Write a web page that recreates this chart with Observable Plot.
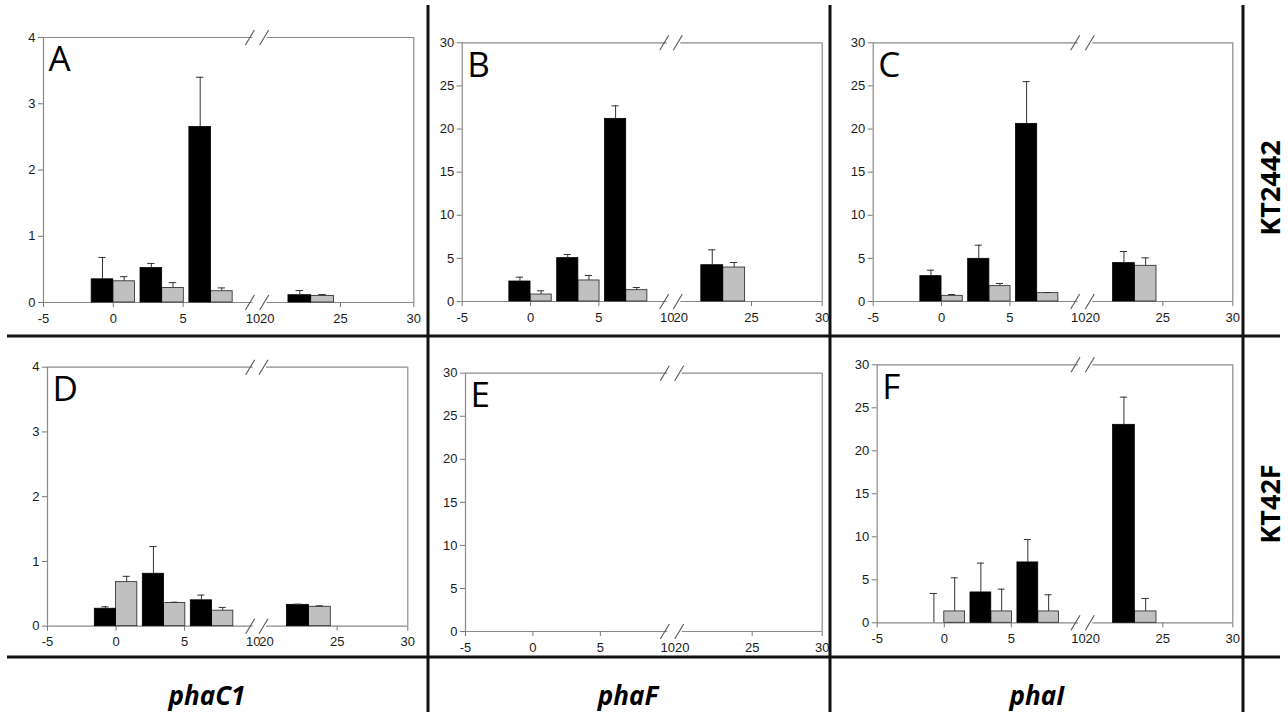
<!DOCTYPE html>
<html><head><meta charset="utf-8">
<script src="https://cdn.jsdelivr.net/npm/d3@7"></script>
<script src="https://cdn.jsdelivr.net/npm/@observablehq/plot@0.6"></script>
<style>
body{margin:0;background:#fff;}
#root{position:relative;width:1288px;height:716px;overflow:hidden;background:#fff;}
#root svg{position:absolute;left:0;top:0;}
</style></head><body><div id="root"></div>
<script>
// ---------- data ----------
const times = [0, 3.5, 7, 23];
const xTickLabels = [-5, 0, 5, 10, 20, 25, 30];
const xTickMarks = [-5, 0, 5, 25, 30];
const xBreakDomain = [-5, 10, 20, 30];
const smallTicks = [0, 1, 2, 3, 4];
const bigTicks = [0, 5, 10, 15, 20, 25, 30];
const genes = ["phaC1", "phaF", "phaI"];
const strains = ["KT2442", "KT42F"];
const letters = ["A", "B", "C", "D", "E", "F"];

const blackA = [0.35, 0.52, 2.65, 0.11];
const blackAErr = [0.33, 0.07, 0.75, 0.07];
const grayA = [0.32, 0.22, 0.17, 0.10];
const grayAErr = [0.07, 0.08, 0.05, 0.02];

const blackB = [2.32, 5.03, 21.18, 4.21];
const blackBErr = [0.50, 0.42, 1.51, 1.78];
const grayB = [0.81, 2.44, 1.31, 3.94];
const grayBErr = [0.43, 0.58, 0.31, 0.58];

const blackC = [2.94, 4.95, 20.6, 4.45];
const blackCErr = [0.69, 1.58, 4.9, 1.35];
const grayC = [0.66, 1.78, 0.97, 4.14];
const grayCErr = [0.15, 0.31, 0.07, 0.92];

const blackD = [0.27, 0.81, 0.40, 0.33];
const blackDErr = [0.03, 0.42, 0.08, 0.01];
const grayD = [0.68, 0.36, 0.24, 0.30];
const grayDErr = [0.09, 0.01, 0.05, 0.015];

const blackE = [0, 0, 0, 0];
const blackEErr = [0, 0, 0, 0];
const grayE = [0, 0, 0, 0];
const grayEErr = [0, 0, 0, 0];

const blackF = [0, 3.53, 7.02, 23.02];
const blackFErr = [3.41, 3.41, 2.67, 3.22];
const grayF = [1.32, 1.32, 1.32, 1.32];
const grayFErr = [3.91, 2.59, 1.94, 1.51];

// ---------- layout (page pixel positions of frames) ----------
const W = 1288, H = 716;
const barW = 1.55, capW = 0.26;
const layouts = [
  {fx: [43, 252.4, 266.7, 413.3], fy: [302, 37]},
  {fx: [461.7, 666.7, 680.3, 821.7], fy: [301, 42.3]},
  {fx: [872.7, 1077.7, 1092.3, 1232.3], fy: [301, 42.3]},
  {fx: [47, 252.7, 266, 407.3], fy: [625.7, 366.7]},
  {fx: [465, 667.3, 681.7, 821.7], fy: [631, 372.7]},
  {fx: [876.7, 1078, 1092.3, 1232.3], fy: [622.3, 364.3]}
];
const panels = [
  [4, smallTicks, blackA, blackAErr, grayA, grayAErr],
  [30, bigTicks, blackB, blackBErr, grayB, grayBErr],
  [30, bigTicks, blackC, blackCErr, grayC, grayCErr],
  [4, smallTicks, blackD, blackDErr, grayD, grayDErr],
  [30, bigTicks, blackE, blackEErr, grayE, grayEErr],
  [30, bigTicks, blackF, blackFErr, grayF, grayFErr]
];

const slash = {draw(ctx) { ctx.moveTo(-4.5, 7.5); ctx.lineTo(4.5, -7.5); }};
const root = document.getElementById("root");

panels.forEach(([yMax, yTicks, black, blackErr, gray, grayErr], k) => {
  const lay = layouts[k];
  const blackRows = times.map((t, i) => ({x1: t - barW, x2: t, xc: t - barW / 2, v: black[i], e: blackErr[i]}));
  const grayRows = times.map((t, i) => ({x1: t, x2: t + barW, xc: t + barW / 2, v: gray[i], e: grayErr[i]}));
  const allRows = blackRows.concat(grayRows).filter(d => d.e > 0);
  const [xa, x10, x20, xb] = xBreakDomain;
  const frameSegs = [0, yMax].flatMap(y => [{y, x1: xa, x2: x10}, {y, x1: x20, x2: xb}]);
  const breaks = [0, yMax].flatMap(y => [{x: x10, y}, {x: x20, y}]);
  const svg = Plot.plot({
    width: W, height: H,
    marginLeft: lay.fx[0], marginRight: W - lay.fx[3],
    marginTop: lay.fy[1], marginBottom: H - lay.fy[0],
    style: {background: "transparent", fontFamily: "'Liberation Sans', Arial, sans-serif", overflow: "visible"},
    x: {type: "linear", domain: xBreakDomain, range: lay.fx, label: null},
    y: {type: "linear", domain: [0, yMax], range: lay.fy, label: null},
    marks: [
      Plot.ruleX([xa, xb], {x: d => d, y1: 0, y2: yMax, stroke: "#8a8a8a", strokeWidth: 1.2}),
      Plot.ruleY(frameSegs, {y: "y", x1: "x1", x2: "x2", stroke: "#8a8a8a", strokeWidth: 1.2}),
      Plot.dot(breaks, {x: "x", y: "y", symbol: slash, stroke: "#555", fill: "none", strokeWidth: 1.1, dx: -3, r: 5}),
      Plot.rectY(grayRows, {x1: "x1", x2: "x2", y: "v", fill: "#c0c0c0", stroke: "#222", strokeWidth: 0.8}),
      Plot.rectY(blackRows, {x1: "x1", x2: "x2", y: "v", fill: "#000", stroke: "#000", strokeWidth: 0.8}),
      Plot.ruleX(allRows, {x: "xc", y1: "v", y2: d => d.v + d.e, stroke: "#333", strokeWidth: 1}),
      Plot.ruleY(allRows, {y: d => d.v + d.e, x1: d => d.xc - capW, x2: d => d.xc + capW, stroke: "#333", strokeWidth: 1}),
      Plot.axisY({ticks: yTicks, tickSize: 5, tickPadding: 3, fontSize: 13, stroke: "#777", fill: "#1a1a1a", tickFormat: d => String(d)}),
      Plot.axisX({ticks: xTickMarks, tickSize: 5, stroke: "#777", tickFormat: () => ""}),
      Plot.axisX({ticks: xTickLabels, tickSize: 0, tickPadding: 11, fontSize: 13, fill: "#1a1a1a", tickFormat: d => String(d)}),
      Plot.text([letters[k]], {text: d => d, frameAnchor: "top-left", dx: 5, dy: 9, fontSize: 35,
        fontFamily: "'Open Sans', sans-serif", textAnchor: "start", lineAnchor: "top", fill: "#000"})
    ]
  });
  root.appendChild(svg);
});

// ---------- grid lines and outer labels ----------
const ov = d3.select(root).append("svg").attr("width", W).attr("height", H);
const hLines = [336, 657];
const vLines = [428, 830, 1243];
hLines.forEach(y => ov.append("line").attr("x1", 7).attr("x2", 1280).attr("y1", y).attr("y2", y)
  .attr("stroke", "#111").attr("stroke-width", 3));
vLines.forEach(x => ov.append("line").attr("x1", x).attr("x2", x).attr("y1", 5).attr("y2", 712)
  .attr("stroke", "#111").attr("stroke-width", 3));
const geneX = [207, 628, 1037];
genes.forEach((g, i) => ov.append("text").attr("x", geneX[i]).attr("y", 705)
  .attr("text-anchor", "middle").attr("font-family", "'Open Sans', sans-serif")
  .attr("font-weight", 700).attr("font-style", "italic").attr("font-size", 26).attr("fill", "#000").text(g));
const strainY = [188, 504];
strains.forEach((s, i) => ov.append("text").attr("transform", `translate(1280,${strainY[i]}) rotate(-90)`)
  .attr("text-anchor", "middle").attr("font-family", "'Open Sans', sans-serif")
  .attr("font-weight", 700).attr("font-size", 27).attr("fill", "#000").text(s));
</script></body></html>
